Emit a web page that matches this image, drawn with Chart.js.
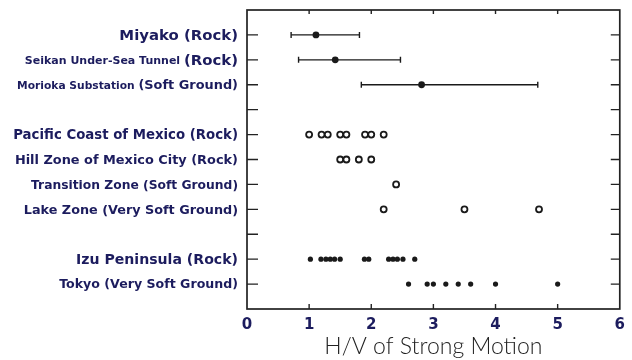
<!DOCTYPE html>
<html>
<head>
<meta charset="utf-8">
<script src="https://cdn.jsdelivr.net/npm/chart.js@4.4.1/dist/chart.umd.min.js"></script>
<style>
  html, body { margin: 0; padding: 0; background: #fff; }
  #wrap { width: 632px; height: 360px; }
</style>
</head>
<body>
<div id="wrap"><canvas id="c" width="632" height="360"></canvas></div>
<script>
// Row positions (1 = top row, 11 = bottom row; 4 and 9 are spacer rows)
const rowSlots = [1, 2, 3, 5, 6, 7, 8, 10, 11];

// Site labels; each label is a list of [text, fontSize] segments
const rowLabels = [
  [["Miyako (Rock)", 14.9]],
  [["Seikan Under-Sea Tunnel ", 11], ["(Rock)", 14.9]],
  [["Morioka Substation ", 10.7], ["(Soft Ground)", 12.9]],
  [["Pacific Coast of Mexico (Rock)", 13.3]],
  [["Hill Zone of Mexico City (Rock)", 12.9]],
  [["Transition Zone (Soft Ground)", 12.3]],
  [["Lake Zone (Very Soft Ground)", 12.8]],
  [["Izu Peninsula (Rock)", 14.1]],
  [["Tokyo (Very Soft Ground)", 12.6]]
];

// Japanese sites: range and mean of H/V
const rangeRows = [1, 2, 3];
const rangeLow  = [0.71, 0.83, 1.84];
const rangeMean = [1.11, 1.42, 2.81];
const rangeHigh = [1.81, 2.47, 4.68];

// Mexico sites (open circles)
const pacificCoastRock = [1.0, 1.2, 1.3, 1.5, 1.6, 1.9, 2.0, 2.2];
const hillZoneRock     = [1.5, 1.6, 1.8, 2.0];
const transitionZone   = [2.4];
const lakeZone         = [2.2, 3.5, 4.7];

// Izu / Tokyo records (filled dots)
const izuPeninsulaRock = [1.02, 1.19, 1.27, 1.34, 1.41, 1.50, 1.89, 1.96, 2.28, 2.35, 2.42, 2.51, 2.70];
const tokyoVerySoft    = [2.6, 2.9, 3.0, 3.2, 3.4, 3.6, 4.0, 5.0];

const xTicks = [0, 1, 2, 3, 4, 5, 6];

const ink = '#1a1a1a';
const navy = '#1c1c5e';
const labelFamily = '"DejaVu Sans"';

const pts = (vals, row) => vals.map(v => ({ x: v, y: row }));

const datasets = [];
rangeRows.forEach((row, i) => {
  datasets.push({
    type: 'line',
    data: [{ x: rangeLow[i], y: row }, { x: rangeHigh[i], y: row }],
    borderColor: ink, borderWidth: 1.4,
    pointStyle: 'line', rotation: 90, pointRadius: 3,
    pointBorderColor: ink, pointBorderWidth: 1.4,
    fill: false
  });
});
datasets.push({
  type: 'scatter',
  data: rangeMean.map((v, i) => ({ x: v, y: rangeRows[i] })),
  pointRadius: 3.4, pointBackgroundColor: ink, pointBorderColor: ink, pointBorderWidth: 0
});
const openStyle = { type: 'scatter', pointRadius: 3, pointBackgroundColor: '#fff', pointBorderColor: ink, pointBorderWidth: 1.8 };
datasets.push(Object.assign({ data: pts(pacificCoastRock, 5) }, openStyle));
datasets.push(Object.assign({ data: pts(hillZoneRock, 6) }, openStyle));
datasets.push(Object.assign({ data: pts(transitionZone, 7) }, openStyle));
datasets.push(Object.assign({ data: pts(lakeZone, 8) }, openStyle));
const dotStyle = { type: 'scatter', pointRadius: 2.6, pointBackgroundColor: ink, pointBorderColor: ink, pointBorderWidth: 0 };
datasets.push(Object.assign({ data: pts(izuPeninsulaRock, 10) }, dotStyle));
datasets.push(Object.assign({ data: pts(tokyoVerySoft, 11) }, dotStyle));

// Frame with inward tick marks, and the mixed-size site labels
const framePlugin = {
  id: 'frame',
  afterDatasetsDraw(chart) {
    const { ctx, chartArea: a, scales: { x, y } } = chart;
    ctx.save();
    ctx.strokeStyle = '#222';
    ctx.lineWidth = 1.7;
    ctx.strokeRect(a.left, a.top, a.right - a.left, a.bottom - a.top);
    ctx.lineWidth = 1.4;
    ctx.beginPath();
    for (let k = 1; k <= 11; k++) {
      const py = y.getPixelForValue(k);
      ctx.moveTo(a.left, py); ctx.lineTo(a.left + 11, py);
      ctx.moveTo(a.right, py); ctx.lineTo(a.right - 9, py);
    }
    for (let k = 1; k <= 5; k++) {
      const px = x.getPixelForValue(k);
      ctx.moveTo(px, a.top); ctx.lineTo(px, a.top + 4);
      ctx.moveTo(px, a.bottom); ctx.lineTo(px, a.bottom - 5);
    }
    ctx.stroke();

    ctx.fillStyle = navy;
    ctx.textBaseline = 'middle';
    ctx.textAlign = 'left';
    const rightEdge = a.left - 9;
    rowLabels.forEach((segs, i) => {
      const py = y.getPixelForValue(rowSlots[i]);
      let total = 0;
      segs.forEach(([t, s]) => { ctx.font = 'bold ' + s + 'px ' + labelFamily; total += ctx.measureText(t).width; });
      let px = rightEdge - total;
      segs.forEach(([t, s]) => {
        ctx.font = 'bold ' + s + 'px ' + labelFamily;
        ctx.fillText(t, px, py + 1);
        px += ctx.measureText(t).width;
      });
    });
    ctx.restore();
  }
};

new Chart(document.getElementById('c'), {
  data: { datasets },
  options: {
    responsive: false,
    animation: false,
    layout: { padding: { left: 247, right: 10, top: 10, bottom: 0 } },
    plugins: { legend: { display: false }, tooltip: { enabled: false } },
    scales: {
      x: {
        type: 'linear', min: 0, max: 6,
        afterBuildTicks: s => { s.ticks = xTicks.map(v => ({ value: v })); },
        afterFit: s => { s.height = 51; },
        grid: { display: false, drawTicks: false },
        border: { display: false },
        ticks: { padding: 7, color: navy, font: { family: '"DejaVu Sans"', weight: 'bold', size: 15 } },
        title: {
          display: true, text: 'H/V of Strong Motion', color: '#222',
          font: { family: 'Lato', weight: '300', size: 23 },
          padding: { top: 0, bottom: 0 }
        }
      },
      y: {
        type: 'linear', min: 0, max: 12, reverse: true, display: false
      }
    }
  },
  plugins: [framePlugin]
});
</script>
</body>
</html>
